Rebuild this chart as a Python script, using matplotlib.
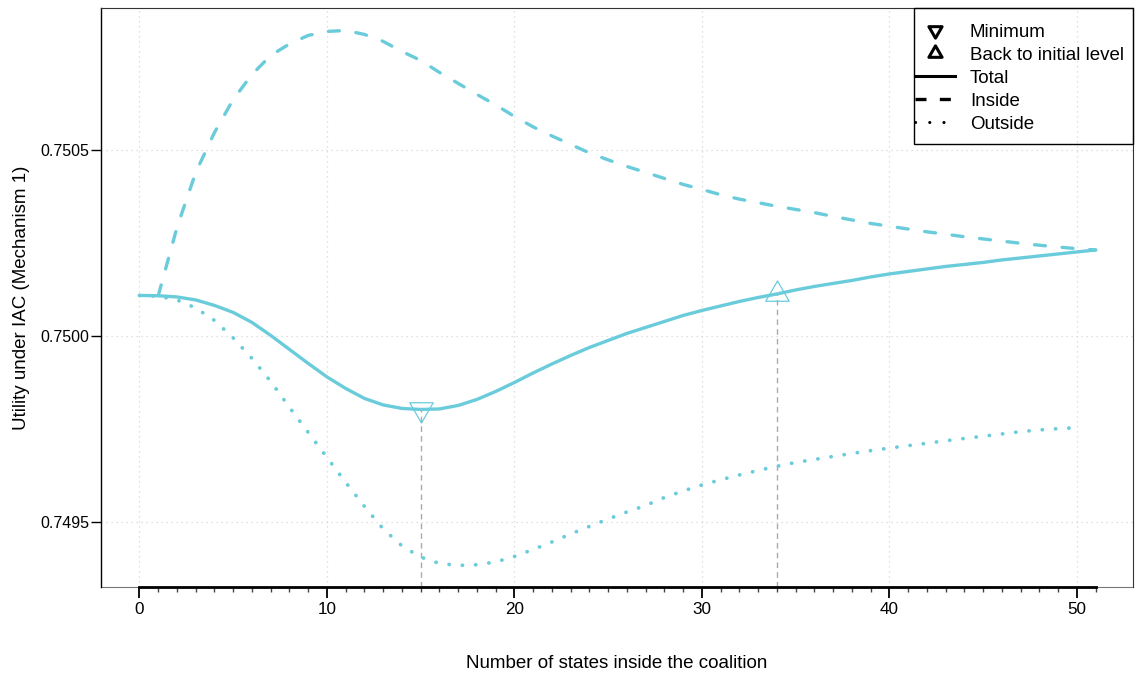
import numpy as np
import matplotlib
matplotlib.use("Agg")
import matplotlib.pyplot as plt
from matplotlib.lines import Line2D
from matplotlib.path import Path
from matplotlib.patches import Rectangle

plt.rcParams['font.family'] = ['Liberation Sans', 'DejaVu Sans']

# Number of states inside the coalition for each series
n_total = np.arange(0, 52)
n_inside = np.arange(1, 52)
n_outside = np.arange(0, 51)

# Utility under IAC (Mechanism 1)
total = [
    0.7501093, 0.7501085, 0.7501053, 0.7500972, 0.7500825, 0.7500637, 0.7500368, 0.7500019, 0.7499643, 0.7499267,
    0.7498904, 0.7498595, 0.7498327, 0.7498152, 0.7498058, 0.7498031, 0.7498045, 0.7498139, 0.7498300, 0.7498515,
    0.7498756, 0.7499012, 0.7499253, 0.7499482, 0.7499696, 0.7499885, 0.7500073, 0.7500234, 0.7500395, 0.7500556,
    0.7500690, 0.7500811, 0.7500932, 0.7501039, 0.7501133, 0.7501241, 0.7501335, 0.7501416, 0.7501496, 0.7501590,
    0.7501671, 0.7501738, 0.7501805, 0.7501872, 0.7501926, 0.7501980, 0.7502047, 0.7502100, 0.7502154, 0.7502208,
    0.7502262, 0.7502315,
]
inside = [
    0.7501090, 0.7502920, 0.7504397, 0.7505471, 0.7506358, 0.7507029, 0.7507540, 0.7507849, 0.7508077, 0.7508184,
    0.7508211, 0.7508104, 0.7507916, 0.7507647, 0.7507405, 0.7507083, 0.7506788, 0.7506492, 0.7506210, 0.7505901,
    0.7505619, 0.7505377, 0.7505149, 0.7504921, 0.7504733, 0.7504558, 0.7504397, 0.7504236, 0.7504075, 0.7503940,
    0.7503798, 0.7503680, 0.7503583, 0.7503489, 0.7503403, 0.7503317, 0.7503215, 0.7503121, 0.7503027, 0.7502952,
    0.7502877, 0.7502802, 0.7502737, 0.7502670, 0.7502611, 0.7502552, 0.7502495, 0.7502442, 0.7502393, 0.7502350,
    0.7502315,
]
outside = [
    0.7501093, 0.7501072, 0.7500972, 0.7500757, 0.7500422, 0.7499952, 0.7499401, 0.7498783, 0.7498085, 0.7497413,
    0.7496742, 0.7496070, 0.7495426, 0.7494821, 0.7494365, 0.7494064, 0.7493895, 0.7493841, 0.7493860, 0.7493935,
    0.7494083, 0.7494271, 0.7494472, 0.7494687, 0.7494889, 0.7495090, 0.7495278, 0.7495453, 0.7495667, 0.7495842,
    0.7496003, 0.7496143, 0.7496272, 0.7496393, 0.7496505, 0.7496608, 0.7496688, 0.7496769, 0.7496849, 0.7496925,
    0.7496994, 0.7497059, 0.7497123, 0.7497190, 0.7497252, 0.7497311, 0.7497373, 0.7497435, 0.7497481, 0.7497515,
    0.7497542,
]

x_ticks = [0, 10, 20, 30, 40, 50]
y_ticks = [0.7495, 0.7500, 0.7505]
y_tick_labels = ["0.7495", "0.7500", "0.7505"]
legend_labels = ["Minimum", "Back to initial level", "Total", "Inside", "Outside"]
x_label = "Number of states inside the coalition"
y_label = "Utility under IAC (Mechanism 1)"

LINE_COLOR = "#6ACCDB"
W, H = 1135, 679


def triangle(up=True):
    """Triangle marker centred on its centroid."""
    w = 1.1547
    if up:
        v = [(0, 2 / 3), (-w / 2, -1 / 3), (w / 2, -1 / 3), (0, 2 / 3)]
    else:
        v = [(0, -2 / 3), (-w / 2, 1 / 3), (w / 2, 1 / 3), (0, -2 / 3)]
    return Path(v, closed=True)


tri_up = triangle(True)
tri_down = triangle(False)

fig = plt.figure(figsize=(W / 100, H / 100), dpi=100)
ax = fig.add_axes([101 / W, (H - 587) / H, 1032 / W, 579 / H])

ax.set_xlim(-2.053, 52.99)
ax.set_ylim(0.7493262, 0.7508814)

# grid
ax.set_axisbelow(True)
ax.grid(True, which='major', color='#D6D6D6', linestyle=(0, (1, 3)), linewidth=0.9)

# series
ax.plot(n_total, total, color=LINE_COLOR, lw=2.4, solid_capstyle='round', solid_joinstyle='round', zorder=3)
ax.plot(n_inside, inside, color=LINE_COLOR, lw=2.4, linestyle=(0, (3.3, 5.0)),
        dash_capstyle='round', zorder=3)
ax.plot(n_outside, outside, color=LINE_COLOR, lw=2.7, linestyle=(0, (0.05, 3.5)),
        dash_capstyle='round', zorder=3)

# minimum and return to the initial level
total_arr = np.asarray(total)
i_min = int(np.argmin(total_arr))
after = np.nonzero(total_arr[i_min:] >= total_arr[0])[0]
i_back = i_min + int(after[0])
ymin = ax.get_ylim()[0]
for i in (i_min, i_back):
    ax.vlines(n_total[i], ymin, total_arr[i], colors='#AAAAAA', linewidth=1.0,
              linestyles=(0, (4, 3)), zorder=2)
ax.plot(n_total[i_min], total_arr[i_min], marker=tri_down, ms=19.5, mfc='none',
        mec=LINE_COLOR, mew=0.9, ls='none', zorder=4)
ax.plot(n_total[i_back], total_arr[i_back], marker=tri_up, ms=19.5, mfc='none',
        mec=LINE_COLOR, mew=0.9, ls='none', zorder=4)

# frame and axes
for s in ('top', 'right'):
    ax.spines[s].set_color('#333333')
    ax.spines[s].set_linewidth(0.8)
ax.spines['left'].set_color('black')
ax.spines['left'].set_linewidth(1.0)
ax.plot([0, 1], [0, 0], transform=ax.transAxes, color='#777777', lw=0.8,
        clip_on=False, zorder=2)
ax.spines['bottom'].set_bounds(0, 51)
ax.spines['bottom'].set_color('black')
ax.spines['bottom'].set_linewidth(2.0)

ax.set_xticks(x_ticks)
ax.set_xticks(np.arange(0, 52), minor=True)
ax.set_yticks(y_ticks)
ax.set_yticklabels(y_tick_labels)
ax.tick_params(axis='x', which='major', direction='out', length=8, width=1.3,
               color='black', labelsize=12.3, pad=3)
ax.tick_params(axis='x', which='minor', direction='out', length=3.5, width=1.0,
               color='#444444')
ax.tick_params(axis='y', which='major', direction='out', length=7.5, width=1.0,
               color='black', labelsize=11.5, pad=1)

ax.set_xlabel(x_label, fontsize=13.5)
ax.xaxis.set_label_coords(0.5, -(664 - 587) / 579)
ax.xaxis.label.set_va('center')
ax.set_ylabel(y_label, fontsize=13.5)
ax.yaxis.set_label_coords((22 - 101) / 1032, 0.5)
ax.yaxis.label.set_va('center')

# legend
handles = [
    Line2D([], [], color='black', marker=tri_down, ms=11, mfc='none', mew=2.2, ls='none'),
    Line2D([], [], color='black', marker=tri_up, ms=11, mfc='none', mew=2.2, ls='none'),
    Line2D([], [], color='black', lw=2.2),
    Line2D([], [], color='black', lw=2.4, linestyle=(0, (3.3, 4.0))),
    Line2D([], [], color='black', lw=2.2, linestyle=(0, (0.05, 4.6)), dash_capstyle='round'),
]
leg = ax.legend(handles, legend_labels, loc='upper left', frameon=False,
                bbox_to_anchor=(915 / W, 1 - 23 / H), bbox_transform=fig.transFigure,
                borderpad=0, borderaxespad=0, handlelength=2.13, handletextpad=0.8,
                labelspacing=0.25, handleheight=0.9, fontsize=13.5)
fig.add_artist(Rectangle((914 / W, 1 - 144 / H), (1133 - 914) / W, (144 - 8) / H,
                         transform=fig.transFigure, fill=False, edgecolor='black', lw=1.0))

fig.savefig('out.png', dpi=100)
